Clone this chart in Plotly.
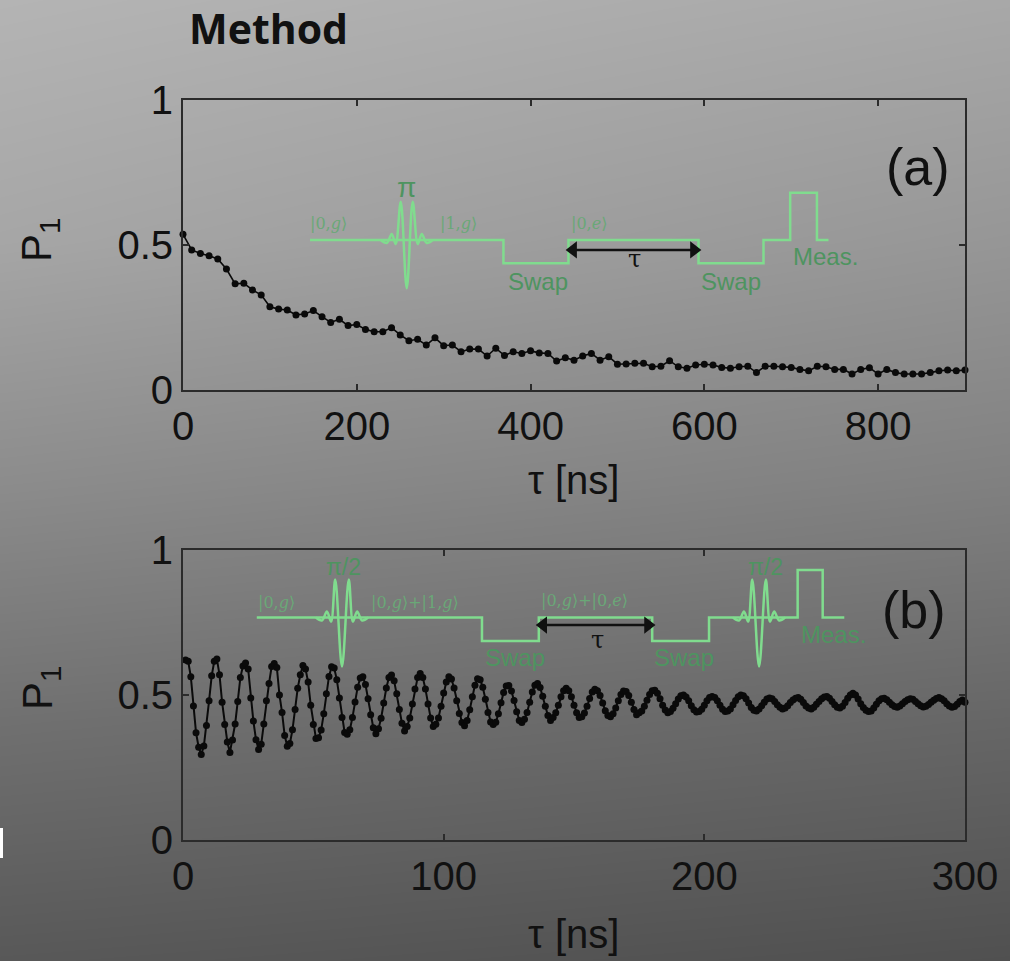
import plotly.graph_objects as go

W, H = 1010, 961

# ---------------- data ----------------
tau_a = list(range(0, 901, 10))
p1_a = [0.537, 0.483, 0.471, 0.463, 0.452, 0.417, 0.366, 0.368, 0.345, 0.328,
        0.287, 0.279, 0.276, 0.259, 0.262, 0.274, 0.253, 0.233, 0.244, 0.222,
        0.226, 0.209, 0.201, 0.201, 0.215, 0.190, 0.170, 0.175, 0.155, 0.180,
        0.153, 0.155, 0.132, 0.141, 0.141, 0.117, 0.144, 0.119, 0.132, 0.126,
        0.135, 0.128, 0.126, 0.100, 0.111, 0.103, 0.117, 0.126, 0.103, 0.115,
        0.089, 0.090, 0.092, 0.092, 0.080, 0.082, 0.101, 0.080, 0.075, 0.086,
        0.089, 0.086, 0.078, 0.075, 0.080, 0.082, 0.060, 0.082, 0.082, 0.080,
        0.078, 0.071, 0.066, 0.082, 0.080, 0.071, 0.071, 0.055, 0.071, 0.077,
        0.055, 0.071, 0.060, 0.055, 0.055, 0.055, 0.060, 0.066, 0.069, 0.066,
        0.069]

tau_b = list(range(1, 301))
p1_b = [
    0.621, 0.616, 0.563, 0.462, 0.370, 0.320, 0.295, 0.324, 0.395, 0.480,
    0.566, 0.616, 0.624, 0.570, 0.475, 0.398, 0.338, 0.302, 0.345, 0.400,
    0.478, 0.560, 0.600, 0.610, 0.590, 0.490, 0.410, 0.346, 0.312, 0.330,
    0.400, 0.480, 0.540, 0.598, 0.609, 0.595, 0.500, 0.440, 0.360, 0.323,
    0.333, 0.380, 0.450, 0.523, 0.570, 0.602, 0.590, 0.545, 0.465, 0.398,
    0.350, 0.353, 0.379, 0.435, 0.504, 0.564, 0.597, 0.593, 0.553, 0.490,
    0.422, 0.371, 0.365, 0.380, 0.422, 0.476, 0.527, 0.559, 0.563, 0.536,
    0.487, 0.432, 0.387, 0.366, 0.384, 0.420, 0.472, 0.524, 0.560, 0.569,
    0.549, 0.504, 0.450, 0.403, 0.376, 0.391, 0.421, 0.469, 0.521, 0.560,
    0.574, 0.560, 0.521, 0.469, 0.421, 0.391, 0.399, 0.421, 0.461, 0.507,
    0.545, 0.563, 0.555, 0.524, 0.480, 0.436, 0.405, 0.394, 0.412, 0.449,
    0.494, 0.534, 0.556, 0.553, 0.527, 0.485, 0.440, 0.407, 0.398, 0.406,
    0.435, 0.473, 0.509, 0.531, 0.533, 0.514, 0.481, 0.442, 0.412, 0.405,
    0.416, 0.440, 0.475, 0.510, 0.534, 0.540, 0.526, 0.496, 0.461, 0.429,
    0.412, 0.422, 0.439, 0.465, 0.494, 0.515, 0.523, 0.515, 0.494, 0.465,
    0.439, 0.422, 0.425, 0.438, 0.461, 0.488, 0.510, 0.520, 0.515, 0.498,
    0.472, 0.446, 0.429, 0.425, 0.435, 0.455, 0.480, 0.502, 0.514, 0.512,
    0.498, 0.475, 0.450, 0.432, 0.439, 0.445, 0.461, 0.482, 0.502, 0.515,
    0.516, 0.506, 0.487, 0.465, 0.448, 0.439, 0.443, 0.454, 0.470, 0.486,
    0.497, 0.500, 0.493, 0.480, 0.463, 0.449, 0.441, 0.443, 0.451, 0.465,
    0.480, 0.491, 0.495, 0.491, 0.480, 0.465, 0.451, 0.443, 0.445, 0.452,
    0.466, 0.481, 0.494, 0.500, 0.497, 0.487, 0.472, 0.457, 0.447, 0.445,
    0.452, 0.463, 0.475, 0.486, 0.490, 0.487, 0.478, 0.466, 0.458, 0.452,
    0.455, 0.463, 0.474, 0.483, 0.489, 0.491, 0.485, 0.474, 0.462, 0.455,
    0.452, 0.458, 0.468, 0.478, 0.487, 0.493, 0.495, 0.489, 0.478, 0.466,
    0.458, 0.455, 0.461, 0.474, 0.489, 0.500, 0.506, 0.500, 0.486, 0.470,
    0.457, 0.447, 0.443, 0.445, 0.455, 0.468, 0.480, 0.487, 0.489, 0.484,
    0.475, 0.466, 0.460, 0.458, 0.462, 0.470, 0.478, 0.484, 0.487, 0.485,
    0.478, 0.470, 0.463, 0.459, 0.461, 0.467, 0.475, 0.482, 0.488, 0.491,
    0.487, 0.480, 0.470, 0.462, 0.458, 0.460, 0.468, 0.478, 0.483, 0.475]

xticks_a = [0, 200, 400, 600, 800]
xticks_b = [0, 100, 200, 300]
yticks = [0, 0.5, 1]
yticklabels = ["0", "0.5", "1"]

# pulse-sequence schematic (a), drawn in the panel's data units
seq_a_x = [146.2, 227.6, 287.4, 368.8, 368.8, 443.6, 443.6, 593.3, 593.3,
           668.1, 668.1, 698.8, 698.8, 729.6, 729.6, 742.9]
seq_a_y = [0.517, 0.517, 0.517, 0.517, 0.437, 0.437, 0.517, 0.517, 0.437,
           0.437, 0.517, 0.517, 0.680, 0.680, 0.517, 0.517]
pulse_a_x = [227.6, 234.5, 240.2, 244.8, 250.6, 257.5, 264.4, 270.2, 274.8, 280.5, 287.4]
pulse_a_y = [0.517, 0.507, 0.538, 0.503, 0.649, 0.351, 0.649, 0.503, 0.538, 0.507, 0.517]
arrow_a_x = [449.0, 588.0]
arrow_a_y = [0.483, 0.483]

# pulse-sequence schematic (b)
seq_b_x = [28.3, 51.0, 71.0, 114.7, 114.7, 136.5, 136.5, 180.0, 180.0,
           201.8, 201.8, 211.0, 231.0, 235.8, 235.8, 245.4, 245.4, 253.7]
seq_b_y = [0.767, 0.767, 0.767, 0.767, 0.686, 0.686, 0.767, 0.767, 0.686,
           0.686, 0.767, 0.767, 0.767, 0.767, 0.931, 0.931, 0.767, 0.767]
pulse_b1_x = [51.0, 53.3, 55.2, 56.8, 58.4, 61.0, 63.6, 65.2, 66.8, 68.7, 71.0]
pulse_b2_x = [211.0, 213.3, 215.2, 216.8, 218.4, 221.0, 223.6, 225.2, 226.8, 228.7, 231.0]
pulse_b_y = [0.767, 0.757, 0.788, 0.753, 0.898, 0.598, 0.898, 0.753, 0.788, 0.757, 0.767]
arrow_b_x = [138.2, 178.4]
arrow_b_y = [0.741, 0.741]

# background shading (grey levels, rows top -> bottom, cols left -> right)
bg_levels = [[180, 168], [166, 150], [140, 128], [112, 102], [88, 80]]


def px(x):
    return x / W


def py(y):
    return 1 - y / H


GREEN = "#80dc8e"
GREEN_TXT = "#4e9460"
KET = "#6aa877"
FONT = "Liberation Sans, Arial, sans-serif"
AXC = "#2b2b2b"

fig = go.Figure()

# background
fig.add_trace(go.Heatmap(
    z=bg_levels[::-1], x=[0, 1], y=[0, 0.25, 0.5, 0.75, 1],
    colorscale=[[0, "rgb(0,0,0)"], [1, "rgb(255,255,255)"]],
    zmin=0, zmax=255, zsmooth="best", showscale=False, hoverinfo="skip",
    xaxis="x", yaxis="y"))


def arrow(xs, ys, xa, ya):
    return go.Scatter(x=xs, y=ys, mode="lines+markers",
                      line=dict(color="#111111", width=2.5),
                      marker=dict(symbol=["triangle-left", "triangle-right"], size=15,
                                  color="#111111"),
                      xaxis=xa, yaxis=ya, hoverinfo="skip")


# panel (a)
fig.add_trace(go.Scatter(x=seq_a_x, y=seq_a_y, mode="lines",
                         line=dict(color=GREEN, width=2.5), xaxis="x2", yaxis="y2",
                         hoverinfo="skip"))
fig.add_trace(go.Scatter(x=pulse_a_x, y=pulse_a_y, mode="lines",
                         line=dict(color=GREEN, width=2.5, shape="spline", smoothing=1.0),
                         xaxis="x2", yaxis="y2", hoverinfo="skip"))
fig.add_trace(arrow(arrow_a_x, arrow_a_y, "x2", "y2"))
fig.add_trace(go.Scatter(x=tau_a, y=p1_a, mode="lines+markers",
                         line=dict(color="#0a0a0a", width=1.6),
                         marker=dict(color="#0a0a0a", size=7),
                         cliponaxis=False, xaxis="x2", yaxis="y2"))

# panel (b)
fig.add_trace(go.Scatter(x=seq_b_x, y=seq_b_y, mode="lines",
                         line=dict(color=GREEN, width=2.5), xaxis="x3", yaxis="y3",
                         hoverinfo="skip"))
for pxs in (pulse_b1_x, pulse_b2_x):
    fig.add_trace(go.Scatter(x=pxs, y=pulse_b_y, mode="lines",
                             line=dict(color=GREEN, width=2.5, shape="spline", smoothing=1.0),
                             xaxis="x3", yaxis="y3", hoverinfo="skip"))
fig.add_trace(arrow(arrow_b_x, arrow_b_y, "x3", "y3"))
fig.add_trace(go.Scatter(x=tau_b, y=p1_b, mode="lines+markers",
                         line=dict(color="#0a0a0a", width=2),
                         marker=dict(color="#0a0a0a", size=7),
                         cliponaxis=False, xaxis="x3", yaxis="y3"))

axis_common = dict(showline=True, linecolor=AXC, linewidth=2, mirror="ticks",
                   ticks="inside", ticklen=6, tickwidth=2, tickcolor=AXC,
                   showgrid=False, zeroline=False, automargin=False,
                   tickfont=dict(family=FONT, size=40, color="#111111"))

fig.update_layout(
    width=W, height=H, margin=dict(l=0, r=0, t=0, b=0, pad=0),
    paper_bgcolor="#8a8a8a", plot_bgcolor="rgba(0,0,0,0)",
    showlegend=False,
    xaxis=dict(domain=[0, 1], range=[0, 1], visible=False, fixedrange=True, automargin=False),
    yaxis=dict(domain=[0, 1], range=[0, 1], visible=False, fixedrange=True, automargin=False),
    xaxis2=dict(domain=[px(183), px(965)], range=[0, 900], tickvals=xticks_a,
                anchor="y2", **axis_common),
    yaxis2=dict(domain=[py(390), py(100)], range=[0, 1], tickvals=yticks,
                ticktext=yticklabels, anchor="x2", **axis_common),
    xaxis3=dict(domain=[px(183), px(965)], range=[0, 300], tickvals=xticks_b,
                anchor="y3", **axis_common),
    yaxis3=dict(domain=[py(840), py(550)], range=[0, 1], tickvals=yticks,
                ticktext=yticklabels, anchor="x3", **axis_common),
)

C = dict(xanchor="center", yanchor="middle", showarrow=False)
ann = []
# title
ann.append(dict(text="<b>Method</b>", x=px(268), y=py(28), xref="paper", yref="paper",
                font=dict(family="Open Sans, sans-serif", size=41, color="#111111"), **C))
# axis titles
for yc_x, yc_p in ((480, 240), (934, 688)):
    ann.append(dict(text="τ [ns]", x=px(573), y=py(yc_x), xref="paper", yref="paper",
                    font=dict(family=FONT, size=40, color="#111111"), **C))
    ann.append(dict(text="P<sub>1</sub>", x=px(40), y=py(yc_p), xref="paper", yref="paper",
                    textangle=-90, font=dict(family=FONT, size=42, color="#111111"), **C))
# panel letters
ann.append(dict(text="(a)", x=846, y=0.77, xref="x2", yref="y2",
                font=dict(family=FONT, size=52, color="#111111"), **C))
ann.append(dict(text="(b)", x=280.6, y=0.793, xref="x3", yref="y3",
                font=dict(family=FONT, size=52, color="#111111"), **C))

ket_font = dict(family="DejaVu Serif, serif", size=16, color=KET)
lab_font = dict(family=FONT, size=24, color=GREEN_TXT)
pi_font = dict(family=FONT, size=28, color=GREEN_TXT)
pi2_font = dict(family=FONT, size=23, color=GREEN_TXT)
tau_font = dict(family="DejaVu Serif, serif", size=24, color="#111111")
# schematic (a) labels
ann += [
    dict(text="|0,<i>g</i>⟩", x=168, y=0.574, xref="x2", yref="y2", font=ket_font, **C),
    dict(text="|1,<i>g</i>⟩", x=316.6, y=0.574, xref="x2", yref="y2", font=ket_font, **C),
    dict(text="|0,<i>e</i>⟩", x=467, y=0.574, xref="x2", yref="y2", font=ket_font, **C),
    dict(text="π", x=257.5, y=0.70, xref="x2", yref="y2", font=pi_font, **C),
    dict(text="Swap", x=408, y=0.375, xref="x2", yref="y2", font=lab_font, **C),
    dict(text="Swap", x=631, y=0.375, xref="x2", yref="y2", font=lab_font, **C),
    dict(text="Meas.", x=740, y=0.462, xref="x2", yref="y2", font=lab_font, **C),
    dict(text="τ", x=520, y=0.452, xref="x2", yref="y2", font=tau_font, **C),
]
# schematic (b) labels
ann += [
    dict(text="|0,<i>g</i>⟩", x=36, y=0.818, xref="x3", yref="y3", font=ket_font, **C),
    dict(text="|0,<i>g</i>⟩+|1,<i>g</i>⟩", x=89, y=0.818, xref="x3", yref="y3", font=ket_font, **C),
    dict(text="|0,<i>g</i>⟩+|0,<i>e</i>⟩", x=154, y=0.826, xref="x3", yref="y3", font=ket_font, **C),
    dict(text="π/2", x=61.6, y=0.942, xref="x3", yref="y3", font=pi2_font, **C),
    dict(text="π/2", x=223.6, y=0.942, xref="x3", yref="y3", font=pi2_font, **C),
    dict(text="Swap", x=127.5, y=0.628, xref="x3", yref="y3", font=lab_font, **C),
    dict(text="Swap", x=192.2, y=0.628, xref="x3", yref="y3", font=lab_font, **C),
    dict(text="Meas.", x=249.5, y=0.71, xref="x3", yref="y3", font=lab_font, **C),
    dict(text="τ", x=159, y=0.69, xref="x3", yref="y3", font=tau_font, **C),
]
fig.update_layout(annotations=ann)

# small white fragment at the left edge
fig.add_shape(type="rect", xref="paper", yref="paper", x0=0, x1=px(3),
              y0=py(858), y1=py(828), fillcolor="white", line_width=0)

fig.write_html("out.html")
